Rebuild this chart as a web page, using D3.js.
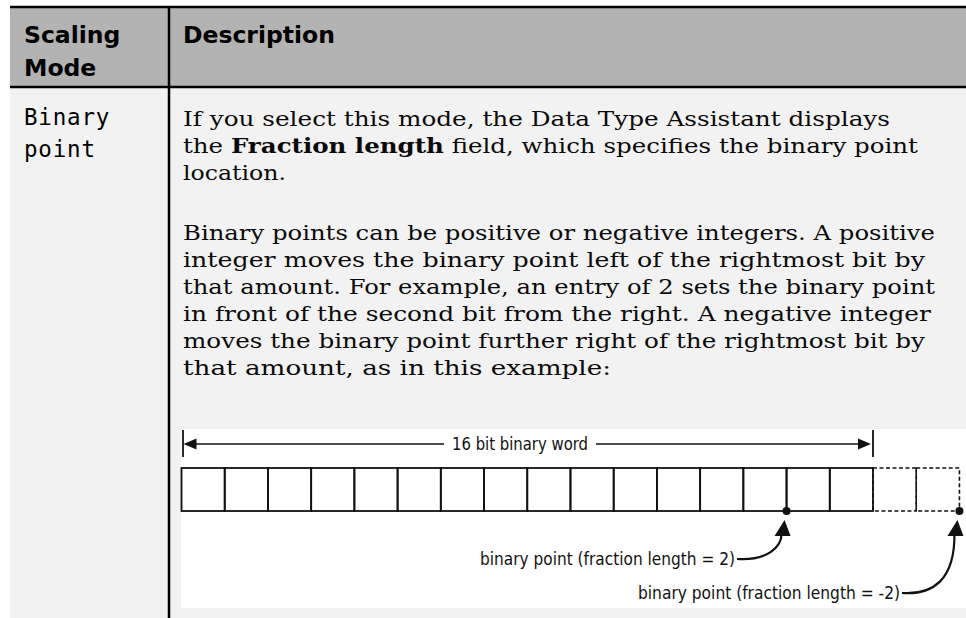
<!DOCTYPE html>
<html><head><meta charset="utf-8">
<script src="https://cdn.jsdelivr.net/npm/d3@7"></script>
<style>html,body{margin:0;padding:0;background:#fff;}svg{display:block;}</style>
</head><body>
<script>
// ---- data ----
const headerCol1 = ["Scaling", "Mode"];
const headerCol2 = ["Description"];
const modeLines = ["Binary", "point"];
const para1 = [
  [{t:"If you select this mode, the Data Type Assistant displays"}],
  [{t:"the "},{t:"Fraction length",b:true},{t:" field, which specifies the binary point"}],
  [{t:"location."}]
];
const para2 = [
  "Binary points can be positive or negative integers. A positive",
  "integer moves the binary point left of the rightmost bit by",
  "that amount. For example, an entry of 2 sets the binary point",
  "in front of the second bit from the right. A negative integer",
  "moves the binary point further right of the rightmost bit by",
  "that amount, as in this example:"
];
const wordBits = 16;
const extraBits = 2;
const wordLabel = "16 bit binary word";
const fractionLengths = [2, -2];
const pointLabels = ["binary point (fraction length = 2)", "binary point (fraction length = -2)"];

// ---- layout ----
const W = 966, H = 618;
const tableL = 10, colX = 169, topY = 7, headBot = 87;
const descX = 183, lh = 27;
const p1Right = [890, 918, 286];
const p2Right = [935, 925, 935, 931, 925, 611];

const svg = d3.select("body").append("svg").attr("width", W).attr("height", H);

// backgrounds
svg.append("rect").attr("x", tableL).attr("y", topY).attr("width", W - tableL).attr("height", headBot - topY).attr("fill", "#b3b3b3");
svg.append("rect").attr("x", tableL).attr("y", headBot).attr("width", W - tableL).attr("height", H - headBot).attr("fill", "#f2f2f2");
// borders
svg.append("line").attr("x1", tableL).attr("x2", W).attr("y1", topY).attr("y2", topY).attr("stroke", "#000").attr("stroke-width", 2.5);
svg.append("line").attr("x1", tableL).attr("x2", W).attr("y1", headBot).attr("y2", headBot).attr("stroke", "#000").attr("stroke-width", 2.5);
svg.append("line").attr("x1", colX).attr("x2", colX).attr("y1", topY).attr("y2", H).attr("stroke", "#000").attr("stroke-width", 2.5);

// header text
const hFont = "'DejaVu Sans', Verdana, sans-serif";
svg.selectAll("text.h1").data(headerCol1).join("text").attr("class","h1")
  .attr("x", 24).attr("y", (d,i) => 43 + i*33)
  .attr("font-family", hFont).attr("font-weight", "bold").attr("font-size", 23.5).attr("fill", "#000").text(d => d);
svg.selectAll("text.h2").data(headerCol2).join("text").attr("class","h2")
  .attr("x", 183).attr("y", 43)
  .attr("font-family", hFont).attr("font-weight", "bold").attr("font-size", 23.5).attr("fill", "#000").text(d => d);

// mode text
svg.selectAll("text.mode").data(modeLines).join("text").attr("class","mode")
  .attr("x", 24).attr("y", (d,i) => 125 + i*32)
  .attr("font-family", "'DejaVu Sans Mono', monospace").attr("font-size", 22.5).attr("letter-spacing", 0.8)
  .attr("fill", "#000").text(d => d);

// description text
const sFont = "'DejaVu Serif', serif";
const sSize = 21;
const p1 = svg.selectAll("text.p1").data(para1).join("text").attr("class","p1")
  .attr("x", descX).attr("y", (d,i) => 126 + i*lh)
  .attr("font-family", sFont).attr("font-size", sSize).attr("fill", "#0a0a0a")
  .attr("textLength", (d,i) => p1Right[i] - descX).attr("lengthAdjust", "spacingAndGlyphs");
p1.selectAll("tspan").data(d => d).join("tspan").attr("font-weight", d => d.b ? "bold" : null).text(d => d.t);
svg.selectAll("text.p2").data(para2).join("text").attr("class","p2")
  .attr("x", descX).attr("y", (d,i) => 240 + i*lh)
  .attr("font-family", sFont).attr("font-size", sSize).attr("fill", "#0a0a0a")
  .attr("textLength", (d,i) => p2Right[i] - descX).attr("lengthAdjust", "spacingAndGlyphs").text(d => d);

// ---- diagram ----
const dg = svg.append("g");
dg.append("rect").attr("x", 181).attr("y", 429).attr("width", W - 181).attr("height", 608 - 429).attr("fill", "#fff");

const cellTop = 468, cellBot = 511;
const x = d3.scaleLinear().domain([0, wordBits]).range([181.5, 873]);
const allBits = d3.range(wordBits + extraBits);
const ink = "#111";
const condFont = "'Liberation Sans Narrow','DejaVu Sans Condensed','Liberation Sans',sans-serif";
// solid cells
dg.selectAll("rect.bit").data(allBits.filter(i => i < wordBits)).join("rect").attr("class","bit")
  .attr("x", i => x(i)).attr("y", cellTop).attr("width", x(1) - x(0)).attr("height", cellBot - cellTop)
  .attr("fill", "none").attr("stroke", ink).attr("stroke-width", 1.8);
// dashed cells
dg.selectAll("rect.xbit").data(allBits.filter(i => i >= wordBits)).join("rect").attr("class","xbit")
  .attr("x", i => x(i)).attr("y", cellTop).attr("width", x(1) - x(0)).attr("height", cellBot - cellTop)
  .attr("fill", "none").attr("stroke", ink).attr("stroke-width", 1.6).attr("stroke-dasharray", "4,2.5");

// word arrow
const ay = 444, labC = 520, labW = 136;
dg.append("line").attr("x1", x(0) + 1.5).attr("x2", x(0) + 1.5).attr("y1", 430).attr("y2", 457).attr("stroke", ink).attr("stroke-width", 1.8);
dg.append("line").attr("x1", x(wordBits)).attr("x2", x(wordBits)).attr("y1", 430).attr("y2", 457).attr("stroke", ink).attr("stroke-width", 1.8);
dg.append("text").attr("x", labC).attr("y", ay + 6)
  .attr("text-anchor", "middle").attr("font-family", condFont)
  .attr("font-size", 18).attr("fill", ink).attr("textLength", labW).attr("lengthAdjust", "spacingAndGlyphs").text(wordLabel);
dg.append("line").attr("x1", x(0) + 8).attr("x2", labC - labW/2 - 8).attr("y1", ay).attr("y2", ay).attr("stroke", ink).attr("stroke-width", 1.6);
dg.append("line").attr("x1", labC + labW/2 + 8).attr("x2", x(wordBits) - 8).attr("y1", ay).attr("y2", ay).attr("stroke", ink).attr("stroke-width", 1.6);
dg.append("path").attr("d", `M${x(0)+2},${ay} L${x(0)+15},${ay-5.5} L${x(0)+15},${ay+5.5} Z`).attr("fill", ink);
dg.append("path").attr("d", `M${x(wordBits)-2},${ay} L${x(wordBits)-15},${ay-5.5} L${x(wordBits)-15},${ay+5.5} Z`).attr("fill", ink);

// binary points
const pts = fractionLengths.map((f, i) => ({f, px: x(wordBits - f), label: pointLabels[i]}));
dg.selectAll("circle.bp").data(pts).join("circle").attr("class","bp")
  .attr("cx", d => d.px).attr("cy", cellBot).attr("r", 4).attr("fill", ink);

const labelGeom = [{end: 735, y: 565, w: 255}, {end: 900, y: 599, w: 262}];
pts.forEach((d, i) => {
  const g = labelGeom[i];
  dg.append("text").attr("x", g.end).attr("y", g.y).attr("text-anchor", "end")
    .attr("font-family", condFont)
    .attr("font-size", 18).attr("fill", ink).attr("textLength", g.w).attr("lengthAdjust", "spacingAndGlyphs").text(d.label);
  const sx = g.end + 2, sy = g.y - 6;
  const tipX = d.px - 2, tipY = cellBot + 9;
  dg.append("path").attr("d", `M${sx},${sy} C${sx + 30},${sy + 2} ${tipX - 2},${sy - 12} ${tipX - 3},${tipY + 12}`)
    .attr("fill", "none").attr("stroke", ink).attr("stroke-width", 2.2);
  dg.append("path").attr("d", `M${tipX},${tipY} L${tipX - 10},${tipY + 16} L${tipX + 6},${tipY + 16} Z`).attr("fill", ink);
});
</script>
</body></html>
